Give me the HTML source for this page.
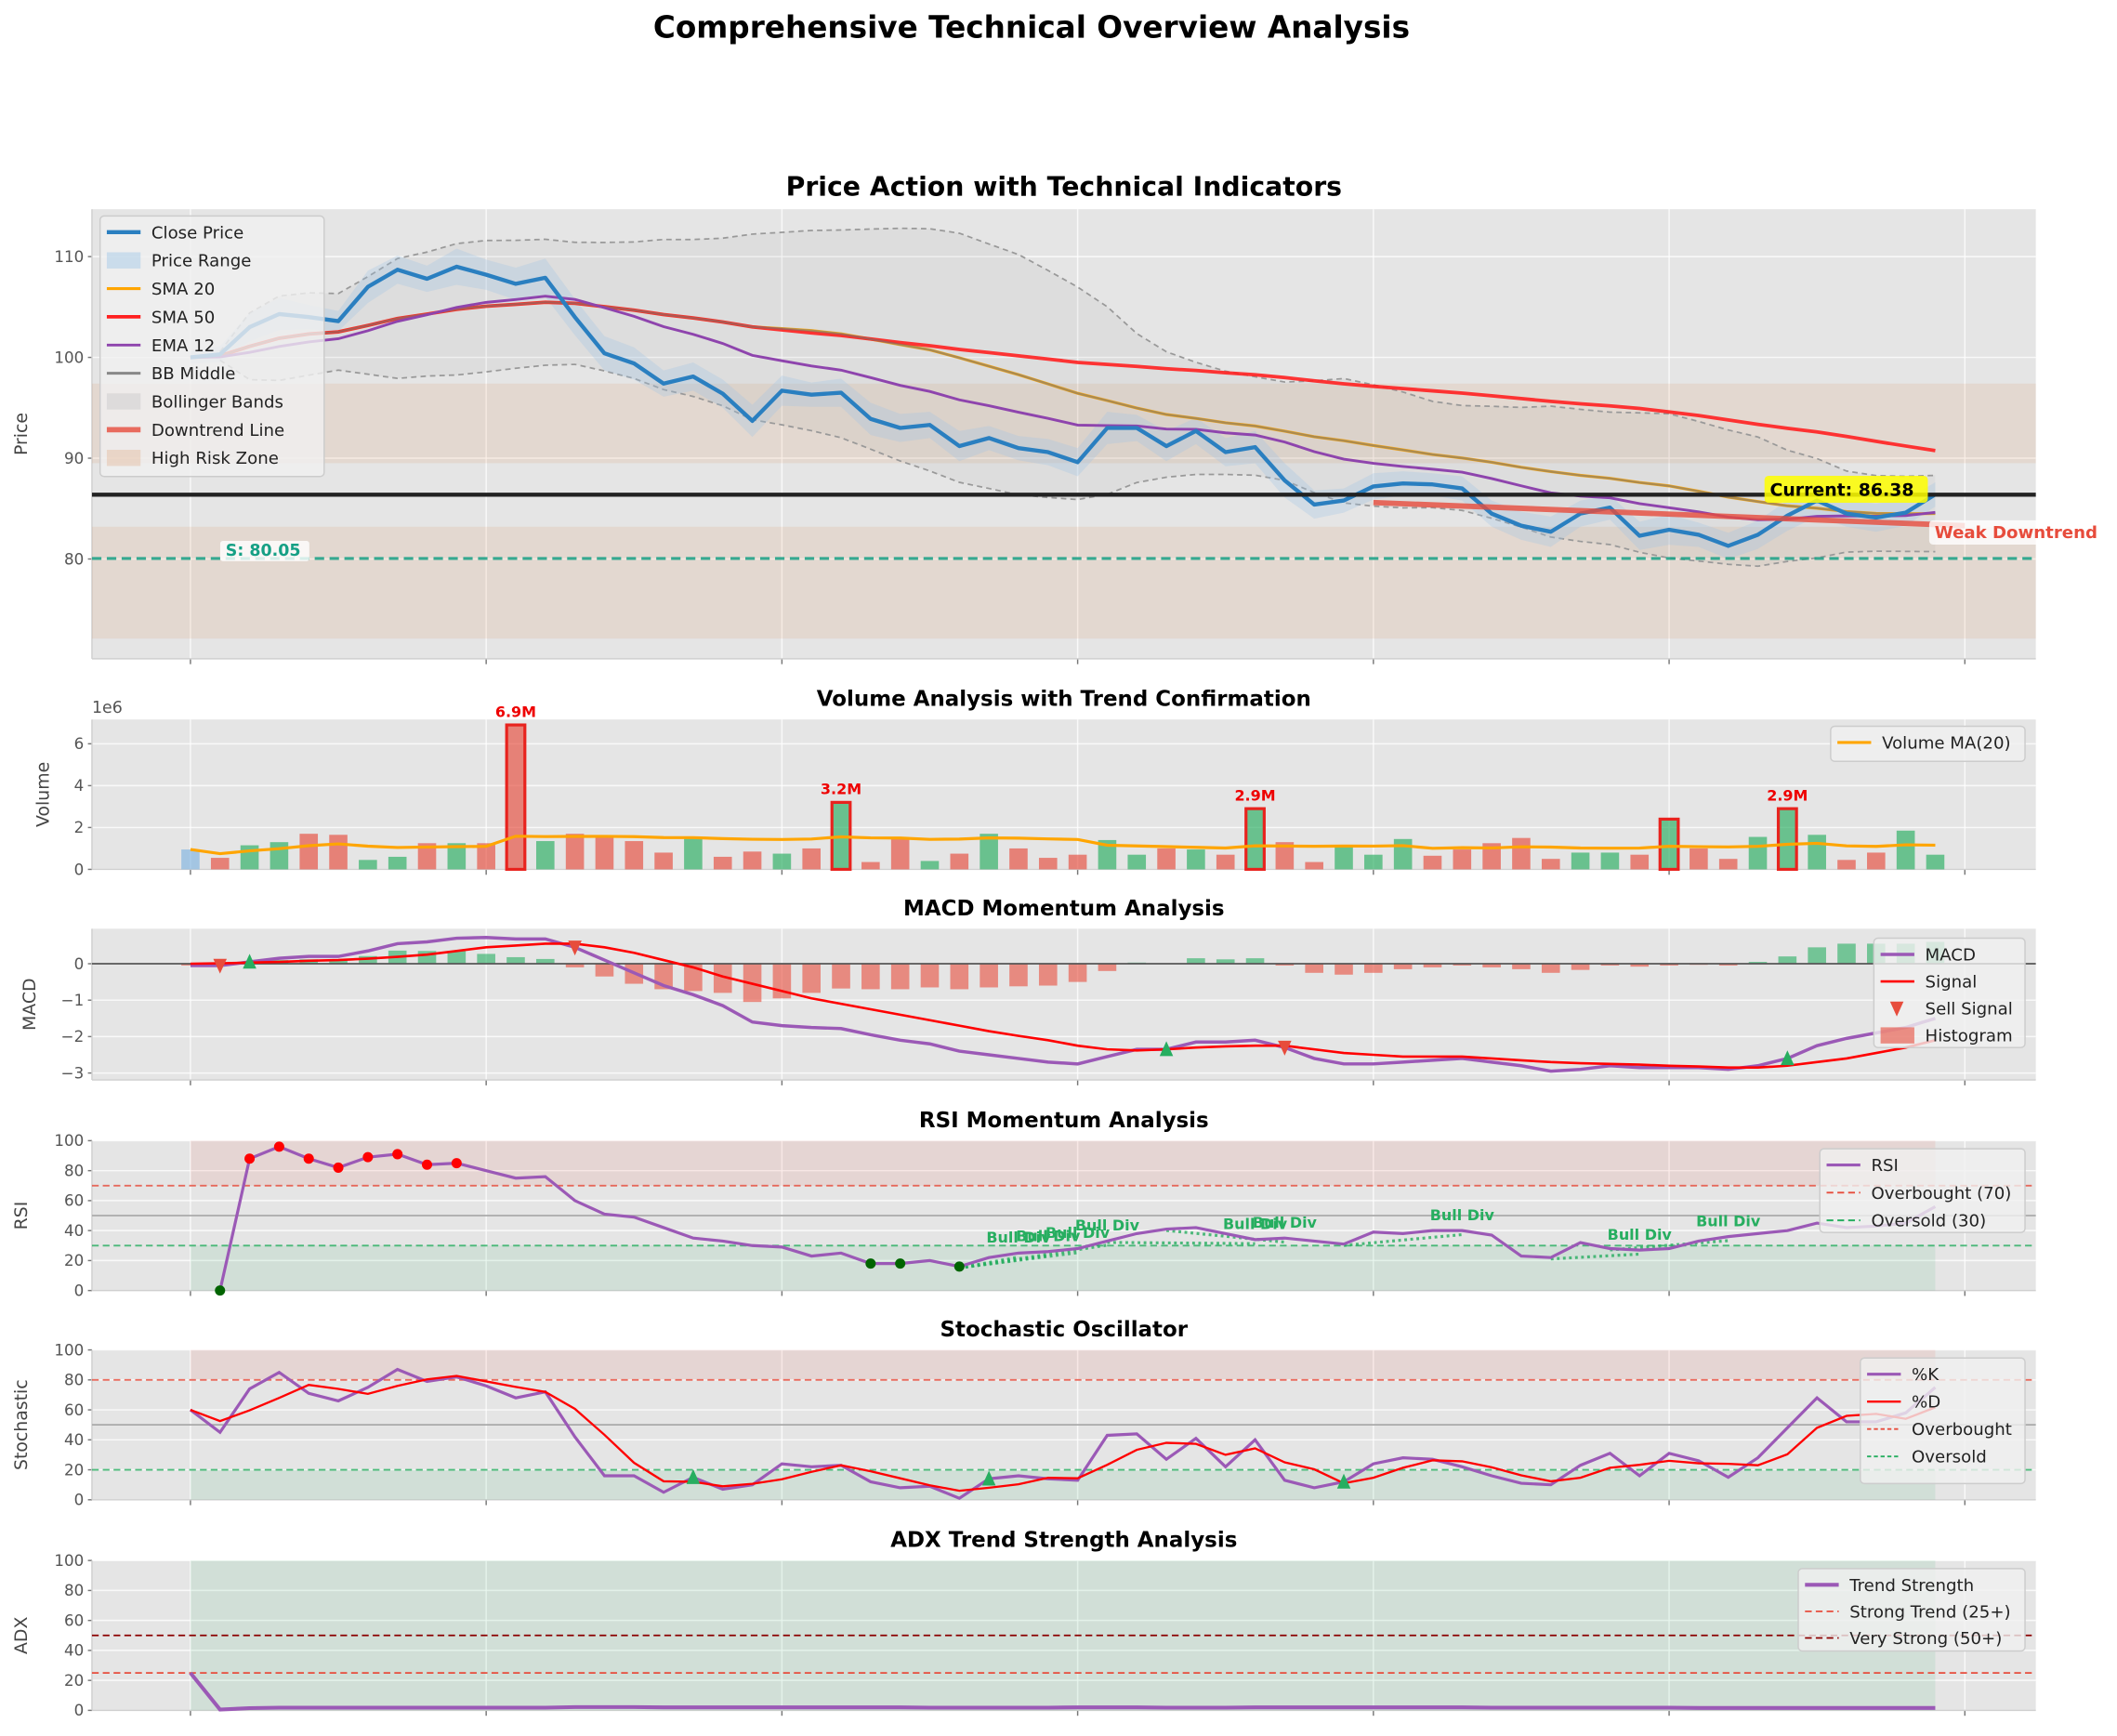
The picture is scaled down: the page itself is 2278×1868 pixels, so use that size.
<!DOCTYPE html>
<html><head><meta charset="utf-8">
<style>
html,body{margin:0;padding:0;background:#fff;}
svg{display:block;font-family:"DejaVu Sans","Liberation Sans",sans-serif;}
.tk{font-size:11.5px;fill:#555;}
.ttl{font-size:15.8px;font-weight:bold;fill:#000;}
.yl{font-size:13px;fill:#444;}
.lg{font-size:12.5px;fill:#222;}
</style></head>
<body>
<svg id="chart" width="2278" height="1868" viewBox="0 0 1568 1286" xmlns="http://www.w3.org/2000/svg">
<rect x="0" y="0" width="1568" height="1286" fill="#fff"/>
<text x="764" y="28" text-anchor="middle" style="font-size:22.5px;font-weight:bold">Comprehensive Technical Overview Analysis</text>
<g id="layer"></g>
</svg>
<script>
// ---------- DATA ----------
const closePrices = [100,100.3,103,104.3,104,103.6,107,108.7,107.8,109,108.2,107.3,107.9,104,100.4,99.4,97.4,98.1,96.4,93.7,96.7,96.3,96.5,93.9,93,93.3,91.2,92,91,90.6,89.6,93,93,91.2,92.7,90.6,91.1,87.8,85.4,85.8,87.2,87.5,87.4,87,84.5,83.3,82.7,84.5,85.1,82.3,82.9,82.4,81.3,82.4,84.3,85.8,84.5,84.1,84.6,86.4];
const priceSpread = [0.6,0.8,1.4,1.6,1.2,1.0,1.6,1.4,1.3,1.8,1.5,1.6,1.9,1.8,1.7,1.6,1.3,1.4,1.4,1.6,1.5,1.2,1.4,1.6,1.4,1.3,1.5,1.2,1.2,1.3,1.4,1.6,1.3,1.5,1.3,1.4,1.6,1.7,1.4,1.2,1.3,1.2,1.1,1.2,1.3,1.4,1.5,1.3,1.2,1.4,1.5,1.2,1.3,1.4,1.5,1.6,1.3,1.4,1.3,1.2];
const volumeM = [0.95,0.55,1.15,1.3,1.7,1.65,0.45,0.6,1.25,1.25,1.25,6.9,1.35,1.7,1.6,1.35,0.8,1.5,0.6,0.85,0.75,1.0,3.2,0.35,1.5,0.4,0.75,1.7,1.0,0.55,0.7,1.4,0.7,1.0,0.95,0.7,2.9,1.3,0.35,1.05,0.7,1.45,0.65,0.95,1.25,1.5,0.5,0.8,0.8,0.7,2.4,1.0,0.5,1.55,2.9,1.65,0.45,0.8,1.85,0.7];
const volumeDir = ['n','d','u','u','d','d','u','u','d','u','d','d','u','d','d','d','d','u','d','d','u','d','u','d','d','u','d','u','d','d','d','u','u','d','u','d','u','d','d','u','u','u','d','d','d','d','d','u','u','d','u','d','d','u','u','u','d','d','u','u'];
const volumeSpikes = [11,22,36,50,54];
const volumeSpikeLabels = ['6.9M','3.2M','2.9M','','2.9M'];
const macdValues = [-0.05,-0.05,0.05,0.15,0.2,0.2,0.35,0.55,0.6,0.7,0.72,0.68,0.68,0.45,0.1,-0.25,-0.6,-0.85,-1.15,-1.6,-1.7,-1.75,-1.78,-1.95,-2.1,-2.2,-2.4,-2.5,-2.6,-2.7,-2.75,-2.55,-2.35,-2.35,-2.15,-2.15,-2.1,-2.3,-2.6,-2.75,-2.75,-2.7,-2.65,-2.6,-2.7,-2.8,-2.95,-2.9,-2.8,-2.85,-2.85,-2.85,-2.9,-2.8,-2.6,-2.25,-2.05,-1.9,-1.75,-1.5];
const signalValues = [0,0.01,0.03,0.05,0.08,0.1,0.14,0.19,0.25,0.35,0.45,0.5,0.55,0.55,0.45,0.3,0.1,-0.1,-0.35,-0.55,-0.75,-0.95,-1.1,-1.25,-1.4,-1.55,-1.7,-1.85,-1.98,-2.1,-2.25,-2.35,-2.38,-2.35,-2.3,-2.27,-2.25,-2.25,-2.35,-2.45,-2.5,-2.55,-2.55,-2.55,-2.6,-2.65,-2.7,-2.73,-2.75,-2.77,-2.8,-2.82,-2.85,-2.85,-2.8,-2.7,-2.6,-2.45,-2.3,-2.1];
const rsiValues = [null,0,88,96,88,82,89,91,84,85,80,75,76,60,51,49,42,35,33,30,29,23,25,18,18,20,16,22,25,26,28,33,38,41,42,38,34,35,33,31,39,38,40,40,37,23,22,32,28,27,28,33,36,38,40,45,42,43,45,56];
const rsiOverboughtIdx = [2,3,4,5,6,7,8,9];
const rsiOversoldIdx = [1,23,24,26];
const bullDivPairs = [[26,28],[26,29],[26,30],[26,31],[31,36],[33,37],[39,43],[46,49],[48,52]];
const stochK = [60,45,74,85,71,66,75,87,79,82,76,68,72,42,16,16,5,15,7,10,24,22,23,12,8,9,1,14,16,14,13,43,44,27,41,22,40,13,8,12,24,28,27,22,16,11,10,23,31,16,31,26,15,28,48,68,52,52,58,75];
const stochBuyIdx = [17,27,39];
const adxValues = [25,0.5,1.5,1.8,1.8,1.8,1.8,1.8,1.8,1.8,1.8,1.8,1.8,2.2,2.2,2.2,2.0,2.0,2.0,2.0,2.0,2.0,2.0,2.0,2.0,1.8,1.8,1.8,1.8,1.8,2.0,2.0,2.0,1.8,1.8,1.8,2.0,2.0,2.0,2.0,2.0,2.0,2.0,2.0,1.8,1.8,1.8,1.8,1.8,1.8,1.8,1.6,1.6,1.6,1.6,1.6,1.6,1.6,1.6,1.6];
const macdSellIdx = [1,13,37];
const macdBuyIdx = [2,33,54];
const supportLevel = 80.05;
const currentPrice = 86.38;
const riskZones = [[89.5,97.4],[72.1,83.2]];
const downtrend = [[40,85.6],[60,83.3]];
const xTicks = [0,10,20,30,40,50,60];

// ---------- helpers ----------
const NS='http://www.w3.org/2000/svg';
const layer=document.getElementById('layer');
function mk(tag,attrs,parent){const e=document.createElementNS(NS,tag);for(const k in attrs)e.setAttribute(k,attrs[k]);(parent||layer).appendChild(e);return e;}
const X0=68,X1=1508,D0=-3.33,D1=62.4;
function xs(i){return X0+(i-D0)/(D1-D0)*(X1-X0);}
function ysc(p){return v=>p.b-(v-p.min)/(p.max-p.min)*(p.b-p.t);}
function path(vals,ys){let d='',pen=false;vals.forEach((v,i)=>{if(v===null||v===undefined||isNaN(v)){pen=false;return;}d+=(pen?'L':'M')+xs(i).toFixed(2)+','+ys(v).toFixed(2);pen=true;});return d;}
function band(up,lo,ys,i0){let a=[],b=[];for(let i=i0;i<up.length;i++){a.push(xs(i).toFixed(2)+','+ys(up[i]).toFixed(2));b.unshift(xs(i).toFixed(2)+','+ys(lo[i]).toFixed(2));}return 'M'+a.join('L')+'L'+b.join('L')+'Z';}
function ema(a,span){const al=2/(span+1);const o=[a[0]];for(let i=1;i<a.length;i++)o.push(al*a[i]+(1-al)*o[i-1]);return o;}
function sma(a,w){return a.map((v,i)=>{const s=a.slice(Math.max(0,i-w+1),i+1);return s.reduce((p,c)=>p+c,0)/s.length;});}
function rstd(a,w){return a.map((v,i)=>{const s=a.slice(Math.max(0,i-w+1),i+1);if(s.length<2)return null;const m=s.reduce((p,c)=>p+c,0)/s.length;return Math.sqrt(s.reduce((p,c)=>p+(c-m)*(c-m),0)/(s.length-1));});}

function panel(name,p,ticks,fmt,ylabel,title,ylx,tsize){
  const bg=mk('rect',{x:X0,y:p.t,width:X1-X0,height:p.b-p.t,fill:'#e5e5e5'});
  
  
  const ys=ysc(p);
  ticks.forEach(v=>{
    const g=mk('line',{x1:X0,x2:X1,y1:ys(v),y2:ys(v),stroke:'#fff','stroke-width':1,opacity:0.8});
    
    
    const t=mk('text',{x:X0-6,y:ys(v)+4,'text-anchor':'end',class:'tk'});t.textContent=fmt(v);
    
    
    mk('line',{x1:X0-3,x2:X0,y1:ys(v),y2:ys(v),stroke:'#777'});
  });
  xTicks.forEach(v=>{
    const g=mk('line',{x1:xs(v),x2:xs(v),y1:p.t,y2:p.b,stroke:'#fff','stroke-width':1,opacity:0.8});
    
    
    const tk=mk('line',{x1:xs(v),x2:xs(v),y1:p.b,y2:p.b+4,stroke:'#777'});
    
    
  });
  mk('line',{x1:X0,x2:X0,y1:p.t,y2:p.b,stroke:'#cfcfcf'});
  mk('line',{x1:X0,x2:X1,y1:p.b,y2:p.b,stroke:'#cfcfcf'});
  const yl=mk('text',{x:ylx,y:(p.t+p.b)/2,'text-anchor':'middle',class:'yl',transform:'rotate(-90 '+ylx+' '+(p.t+p.b)/2+')'});yl.textContent=ylabel;
  
  
  const tt=mk('text',{x:(X0+X1)/2,y:p.t-10,'text-anchor':'middle',class:'ttl',style:tsize?'font-size:'+tsize+'px':''});tt.textContent=title;
  
  
  return ys;
}
function legend(name,x,y,w,h,items){
  const g=mk('g',{});
  
  
  mk('rect',{x:x,y:y,width:w,height:h,rx:3,fill:'#f0f0f0','fill-opacity':0.8,stroke:'#cccccc'},g);
  items.forEach((it,k)=>{
    const cy=y+12+k*it.dy;
    if(it.type==='line'){mk('line',{x1:x+5,x2:x+30,y1:cy,y2:cy,stroke:it.c,'stroke-width':it.w,'stroke-dasharray':it.dash||'',opacity:it.op||1},g);}
    else if(it.type==='rect'){mk('rect',{x:x+5,y:cy-6,width:25,height:12,fill:it.c,opacity:it.op||1},g);}
    else if(it.type==='tri'){mk('path',{d:`M${x+12},${cy-5}L${x+22},${cy-5}L${x+17},${cy+6}Z`,fill:it.c},g);}
    const t=mk('text',{x:x+38,y:cy+4.5,class:'lg'},g);t.textContent=it.label;
    
    
  });
}
function tri(x,y,up,c,name){
  const d=up?`M${x-5},${y+5}L${x+5},${y+5}L${x},${y-6}Z`:`M${x-5},${y-5}L${x+5},${y-5}L${x},${y+6}Z`;
  const e=mk('path',{d:d,fill:c});
  
  
}

// ---------- PRICE ----------
const PP={t:155,b:488,min:70.1,max:114.7};
const yP=panel('price',PP,[80,90,100,110],v=>v,'Price','Price Action with Technical Indicators',20,19.5);
riskZones.forEach(z=>{
  const r=mk('rect',{x:X0,y:yP(z[1]),width:X1-X0,height:yP(z[0])-yP(z[1]),fill:'#d35400',opacity:0.09});
  
  
});
const sma20=sma(closePrices,20),sma50=sma(closePrices,50),ema12=ema(closePrices,12),sd20=rstd(closePrices,20);
const bbU=sma20.map((m,i)=>sd20[i]===null?null:m+2*sd20[i]);
const bbL=sma20.map((m,i)=>sd20[i]===null?null:m-2*sd20[i]);
const bbFill=mk('path',{d:band(bbU,bbL,yP,1),fill:'#999',opacity:0.1});


[bbU,bbL].forEach((s,k)=>{const e=mk('path',{d:path(s,yP),fill:'none',stroke:'#999','stroke-width':1.2,'stroke-dasharray':'4,3'});
  
  });
const hi=closePrices.map((c,i)=>c+priceSpread[i]),lo=closePrices.map((c,i)=>c-priceSpread[i]);
const pr=mk('path',{d:band(hi,lo,yP,0),fill:'#9ec5e6',opacity:0.3});


const l20=mk('path',{d:path(sma20,yP),fill:'none',stroke:'#ffa500','stroke-width':2.2,opacity:0.9});


const l50=mk('path',{d:path(sma50,yP),fill:'none',stroke:'#ff2020','stroke-width':2.6,opacity:0.9});


const lbm=mk('path',{d:path(sma20,yP),fill:'none',stroke:'#777','stroke-width':1.6,opacity:0.6});


const le=mk('path',{d:path(ema12,yP),fill:'none',stroke:'#8e44ad','stroke-width':2});


const lc=mk('path',{d:path(closePrices,yP),fill:'none',stroke:'#2a7fc0','stroke-width':3,'stroke-linejoin':'round'});


const cur=mk('line',{x1:X0,x2:X1,y1:yP(currentPrice),y2:yP(currentPrice),stroke:'#222','stroke-width':3});


const sup=mk('line',{x1:X0,x2:X1,y1:yP(supportLevel),y2:yP(supportLevel),stroke:'#16a085','stroke-width':2.2,'stroke-dasharray':'7,4',opacity:0.85});


const dt=mk('line',{x1:xs(downtrend[0][0]),y1:yP(downtrend[0][1]),x2:xs(downtrend[1][0]),y2:yP(downtrend[1][1]),stroke:'#e74c3c','stroke-width':4,opacity:0.8});


let e;
e=mk('rect',{x:163,y:yP(supportLevel)-13,width:66,height:15,fill:'#fff',opacity:0.8,rx:2});
e=mk('text',{x:167,y:yP(supportLevel)-2,style:'font-size:12px;font-weight:bold;fill:#16a085'});e.textContent='S: '+supportLevel.toFixed(2);


e=mk('rect',{x:1307,y:yP(currentPrice)-14,width:121,height:20,fill:'#ffff00',opacity:0.85,rx:3});
e=mk('text',{x:1311,y:yP(currentPrice)+1,style:'font-size:13px;font-weight:bold;fill:#000'});e.textContent='Current: '+currentPrice.toFixed(2);


e=mk('rect',{x:1429,y:yP(downtrend[1][1])-4,width:130,height:18,fill:'#fff',opacity:0.8,rx:3});
e=mk('text',{x:1433,y:yP(downtrend[1][1])+9,style:'font-size:12.5px;font-weight:bold;fill:#e74c3c'});e.textContent='Weak Downtrend';


legend('price-legend',74,160,166,193,[
 {type:'line',c:'#2a7fc0',w:3,label:'Close Price',dy:20.9},
 {type:'rect',c:'#9ec5e6',op:0.45,label:'Price Range',dy:20.9},
 {type:'line',c:'#ffa500',w:2.2,label:'SMA 20',dy:20.9},
 {type:'line',c:'#ff2020',w:2.6,label:'SMA 50',dy:20.9},
 {type:'line',c:'#8e44ad',w:2,label:'EMA 12',dy:20.9},
 {type:'line',c:'#888',w:2,label:'BB Middle',dy:20.9},
 {type:'rect',c:'#ccc',op:0.5,label:'Bollinger Bands',dy:20.9},
 {type:'line',c:'#e74c3c',w:4,op:0.8,label:'Downtrend Line',dy:20.9},
 {type:'rect',c:'#d35400',op:0.15,label:'High Risk Zone',dy:20.9}]);

// ---------- VOLUME ----------
const PV={t:533,b:644,min:0,max:7.16};
const yV=panel('volume',PV,[0,2,4,6],v=>v,'Volume','Volume Analysis with Trend Confirmation',36);
e=mk('text',{x:68,y:528,class:'tk',style:'font-size:12px'});e.textContent='1e6';


const bw=13.5;
volumeM.forEach((v,i)=>{
  const c=volumeDir[i]==='u'?'#27ae60':volumeDir[i]==='d'?'#e74c3c':'#7fb3e0';
  const spike=volumeSpikes.indexOf(i);
  const b=mk('rect',{x:xs(i)-bw/2,y:yV(v),width:bw,height:yV(0)-yV(v),fill:c,'fill-opacity':0.65,stroke:spike>=0?'#e8231e':'none','stroke-width':2.2});
  
  
  if(spike>=0&&volumeSpikeLabels[spike]){
    const t=mk('text',{x:xs(i),y:yV(v)-6,'text-anchor':'middle',style:'font-size:11px;font-weight:bold;fill:#e00'});t.textContent=volumeSpikeLabels[spike];
    
    
  }
});
const vma=sma(volumeM,20);
e=mk('path',{d:path(vma,yV),fill:'none',stroke:'#ffa500','stroke-width':2.2});


legend('volume-legend',1356,538,144,26,[{type:'line',c:'#ffa500',w:2.2,label:'Volume MA(20)',dy:20}]);

// ---------- MACD ----------
const PM={t:688,b:800,min:-3.19,max:0.96};
const yM=panel('macd',PM,[0,-1,-2,-3],v=>v===0?'0':'\u2212'+Math.abs(v),'MACD','MACD Momentum Analysis',26);
const hist=macdValues.map((v,i)=>v-signalValues[i]);
hist.forEach((h,i)=>{
  const y0=yM(0),y1=yM(h);
  const b=mk('rect',{x:xs(i)-bw/2,y:Math.min(y0,y1),width:bw,height:Math.abs(y1-y0),fill:h>=0?'#27ae60':'#e74c3c',opacity:0.6});
  
  
});
e=mk('line',{x1:X0,x2:X1,y1:yM(0),y2:yM(0),stroke:'#555','stroke-width':1.2});


e=mk('path',{d:path(macdValues,yM),fill:'none',stroke:'#9b59b6','stroke-width':2.4});


e=mk('path',{d:path(signalValues,yM),fill:'none',stroke:'#ff0000','stroke-width':1.8});


macdSellIdx.forEach(i=>tri(xs(i),yM(macdValues[i]),false,'#e74c3c','sell-signal-marker'));
macdBuyIdx.forEach(i=>tri(xs(i),yM(macdValues[i]),true,'#27ae60','buy-signal-marker'));
legend('macd-legend',1388,695,112,81,[
 {type:'line',c:'#9b59b6',w:2.4,label:'MACD',dy:20},
 {type:'line',c:'#ff0000',w:1.8,label:'Signal',dy:20},
 {type:'tri',c:'#e74c3c',label:'Sell Signal',dy:20},
 {type:'rect',c:'#e74c3c',op:0.6,label:'Histogram',dy:20}]);

// ---------- oscillator helper ----------
function zones(ys,hiV,loV){
  let r=mk('rect',{x:xs(0),y:ys(100),width:xs(59)-xs(0),height:ys(hiV)-ys(100),fill:'#e74c3c',opacity:0.1});
  
  
  r=mk('rect',{x:xs(0),y:ys(loV),width:xs(59)-xs(0),height:ys(0)-ys(loV),fill:'#27ae60',opacity:0.1});
  
  
  r=mk('line',{x1:X0,x2:X1,y1:ys(hiV),y2:ys(hiV),stroke:'#e74c3c','stroke-width':1.3,'stroke-dasharray':'5,3',opacity:0.8});
  
  
  r=mk('line',{x1:X0,x2:X1,y1:ys(loV),y2:ys(loV),stroke:'#27ae60','stroke-width':1.3,'stroke-dasharray':'5,3',opacity:0.8});
  
  
  r=mk('line',{x1:X0,x2:X1,y1:ys(50),y2:ys(50),stroke:'#aaa','stroke-width':1.2});
  
  
}
const t100=[0,20,40,60,80,100];

// ---------- RSI ----------
const PR={t:845,b:956,min:0,max:100};
const yR=panel('rsi',PR,t100,v=>v,'RSI','RSI Momentum Analysis',20);
zones(yR,70,30);
bullDivPairs.forEach(p=>{
  const l=mk('line',{x1:xs(p[0]),y1:yR(rsiValues[p[0]])+1,x2:xs(p[1]),y2:yR(rsiValues[p[1]])+3,stroke:'#27ae60','stroke-width':2.2,'stroke-dasharray':'2,2.5',opacity:0.8});
  
  
});
e=mk('path',{d:path(rsiValues,yR),fill:'none',stroke:'#9b59b6','stroke-width':2.2});


bullDivPairs.forEach(p=>{
  const t=mk('text',{x:xs(p[1]),y:yR(rsiValues[p[1]]+7),'text-anchor':'middle',style:'font-size:11px;font-weight:bold;fill:#27ae60'});t.textContent='Bull Div';
  
  
});
rsiOverboughtIdx.forEach(i=>{const c=mk('circle',{cx:xs(i),cy:yR(rsiValues[i]),r:3.8,fill:'#ff0000'});
  
  });
rsiOversoldIdx.forEach(i=>{const c=mk('circle',{cx:xs(i),cy:yR(rsiValues[i]),r:3.8,fill:'#006400'});
  
  });
legend('rsi-legend',1348,851,152,62,[
 {type:'line',c:'#9b59b6',w:2.2,label:'RSI',dy:20.5},
 {type:'line',c:'#e74c3c',w:1.3,dash:'5,3',label:'Overbought (70)',dy:20.5},
 {type:'line',c:'#27ae60',w:1.3,dash:'5,3',label:'Oversold (30)',dy:20.5}]);

// ---------- STOCH ----------
const PS={t:1000,b:1111,min:0,max:100};
const yS=panel('stoch',PS,t100,v=>v,'Stochastic','Stochastic Oscillator',20);
zones(yS,80,20);
const stochD=sma(stochK,3);
e=mk('path',{d:path(stochK,yS),fill:'none',stroke:'#9b59b6','stroke-width':2.2});


e=mk('path',{d:path(stochD,yS),fill:'none',stroke:'#ff0000','stroke-width':1.6});


stochBuyIdx.forEach(i=>tri(xs(i),yS(stochK[i]),true,'#27ae60','stoch-buy-marker'));
legend('stoch-legend',1378,1006,122,93,[
 {type:'line',c:'#9b59b6',w:2.2,label:'%K',dy:20.3},
 {type:'line',c:'#ff0000',w:1.6,label:'%D',dy:20.3},
 {type:'line',c:'#e74c3c',w:1.3,dash:'3,2',label:'Overbought',dy:20.3},
 {type:'line',c:'#27ae60',w:1.3,dash:'3,2',label:'Oversold',dy:20.3}]);

// ---------- ADX ----------
const PA={t:1156,b:1267,min:0,max:100};
const yA=panel('adx',PA,t100,v=>v,'ADX','ADX Trend Strength Analysis',20);
e=mk('rect',{x:xs(0),y:yA(100),width:xs(59)-xs(0),height:yA(0)-yA(100),fill:'#27ae60',opacity:0.1});


e=mk('line',{x1:X0,x2:X1,y1:yA(25),y2:yA(25),stroke:'#e74c3c','stroke-width':1.2,'stroke-dasharray':'5,3'});


e=mk('line',{x1:X0,x2:X1,y1:yA(50),y2:yA(50),stroke:'#8b0000','stroke-width':1.2,'stroke-dasharray':'5,3'});


e=mk('path',{d:path(adxValues,yA),fill:'none',stroke:'#9b59b6','stroke-width':2.8});


legend('adx-legend',1332,1162,168,61,[
 {type:'line',c:'#9b59b6',w:2.8,label:'Trend Strength',dy:19.7},
 {type:'line',c:'#e74c3c',w:1.2,dash:'5,3',label:'Strong Trend (25+)',dy:19.7},
 {type:'line',c:'#8b0000',w:1.2,dash:'5,3',label:'Very Strong (50+)',dy:19.7}]);
</script>
</body></html>
